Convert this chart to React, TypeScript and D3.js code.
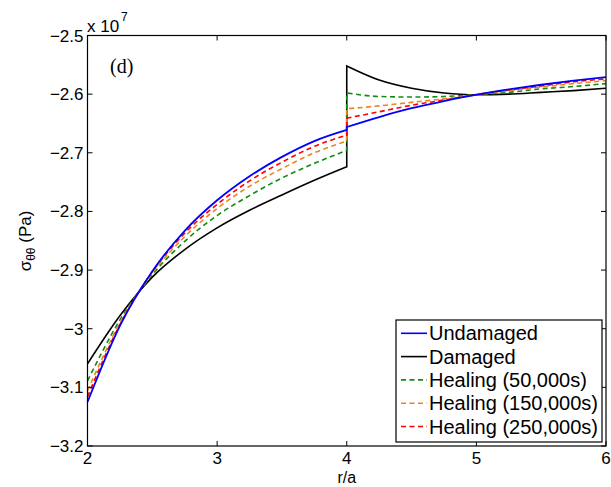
import React from "react";
import * as d3 from "d3";

const rLeft = [2, 2.25, 2.5, 2.75, 3, 3.25, 3.5, 3.75, 4];
const rRight = [4, 4.25, 4.5, 4.75, 5, 5.25, 5.5, 5.75, 6];

// values in units of 1e7 Pa
const undamagedLeft = [-3.125, -2.995, -2.902, -2.833, -2.781, -2.74, -2.707, -2.68, -2.661];
const undamagedRight = [-2.656, -2.639, -2.624, -2.612, -2.601, -2.592, -2.584, -2.577, -2.571];
const damagedLeft = [-3.06, -2.978, -2.912, -2.865, -2.828, -2.798, -2.772, -2.747, -2.724];
const damagedRight = [-2.552, -2.576, -2.59, -2.598, -2.601, -2.6, -2.597, -2.594, -2.59];
const heal50Left = [-3.089, -2.985, -2.908, -2.851, -2.807, -2.773, -2.743, -2.718, -2.696];
const heal50Right = [-2.598, -2.604, -2.605, -2.604, -2.601, -2.597, -2.591, -2.587, -2.582];
const heal150Left = [-3.106, -2.99, -2.905, -2.843, -2.795, -2.757, -2.727, -2.7, -2.68];
const heal150Right = [-2.625, -2.62, -2.614, -2.608, -2.601, -2.594, -2.588, -2.582, -2.577];
const heal250Left = [-3.116, -2.993, -2.903, -2.837, -2.788, -2.748, -2.716, -2.689, -2.67];
const heal250Right = [-2.641, -2.63, -2.619, -2.61, -2.601, -2.593, -2.586, -2.579, -2.574];

const seriesNames = ["Undamaged", "Damaged", "Healing (50,000s)", "Healing (150,000s)", "Healing (250,000s)"];
const seriesColors = ["#0000ff", "#000000", "#138a13", "#e8871e", "#ff0000"];
const seriesDashed = [false, false, true, true, true];
const seriesLeft = [undamagedLeft, damagedLeft, heal50Left, heal150Left, heal250Left];
const seriesRight = [undamagedRight, damagedRight, heal50Right, heal150Right, heal250Right];

const xTicks = [2, 3, 4, 5, 6];
const yTicks = [-3.2, -3.1, -3.0, -2.9, -2.8, -2.7, -2.6, -2.5];
const yTickLabels = ["\u22123.2", "\u22123.1", "\u22123", "\u22122.9", "\u22122.8", "\u22122.7", "\u22122.6", "\u22122.5"];

const W = 611, H = 487;
const L = 87.5, R = 606, T = 35.5, B = 446;

export default function App() {
  const x = d3.scaleLinear().domain([2, 6]).range([L, R]);
  const y = d3.scaleLinear().domain([-3.2, -2.5]).range([B, T]);
  const line = d3.line<[number, number]>().x(d => x(d[0])).y(d => y(d[1])).curve(d3.curveMonotoneX);
  const drawOrder = [1, 2, 3, 4, 0];
  const font = "'Liberation Sans', Arial, Helvetica, sans-serif";
  const tick = 5;
  return (
    <svg width={W} height={H} style={{ position: "absolute", left: 0, top: 0 }} fontFamily={font}>
      <rect x={0} y={0} width={W} height={H} fill="#fff" />
      {drawOrder.map(i => {
        const lp = line(rLeft.map((r, k) => [r, seriesLeft[i][k]] as [number, number])) || "";
        const rp = (line(rRight.map((r, k) => [r, seriesRight[i][k]] as [number, number])) || "").replace(/^M/, "L");
        return (
          <path key={i} d={lp + rp} fill="none" stroke={seriesColors[i]}
            strokeWidth={i === 0 ? 1.8 : 1.6} strokeDasharray={seriesDashed[i] ? "5,3.5" : undefined} />
        );
      })}
      <rect x={L} y={T} width={R - L} height={B - T} fill="none" stroke="#000" strokeWidth={1.2} />
      {xTicks.map(t => (
        <g key={"x" + t}>
          <line x1={x(t)} x2={x(t)} y1={B} y2={B - tick} stroke="#000" />
          <line x1={x(t)} x2={x(t)} y1={T} y2={T + tick} stroke="#000" />
          <text x={x(t)} y={464} textAnchor="middle" fontSize={17}>{t}</text>
        </g>
      ))}
      {yTicks.map((t, k) => (
        <g key={"y" + k}>
          <line x1={L} x2={L + tick} y1={y(t)} y2={y(t)} stroke="#000" />
          <line x1={R} x2={R - tick} y1={y(t)} y2={y(t)} stroke="#000" />
          <text x={83.5} y={y(t) + 6} textAnchor="end" fontSize={17}>{yTickLabels[k]}</text>
        </g>
      ))}
      <text x={87} y={32} fontSize={17}>x 10</text>
      <text x={121} y={21} fontSize={12}>7</text>
      <text x={110} y={73} fontSize={20} fontFamily="'Liberation Serif', 'Times New Roman', serif">(d)</text>
      <text x={x(4)} y={483} textAnchor="middle" fontSize={16}>r/a</text>
      <text transform="translate(31,241) rotate(-90)" textAnchor="middle" fontSize={17}>
        <tspan>σ</tspan>
        <tspan fontSize={12} dy={4}>θθ</tspan>
        <tspan dy={-4}> (Pa)</tspan>
      </text>
      <rect x={396} y={320} width={206} height={122} fill="#fff" stroke="#000" strokeWidth={1.2} />
      {seriesNames.map((n, i) => {
        const yy = 333.3 + i * 23.3;
        return (
          <g key={n}>
            <line x1={401} x2={427} y1={yy} y2={yy} stroke={seriesColors[i]} strokeWidth={1.6}
              strokeDasharray={seriesDashed[i] ? "5,3.5" : undefined} />
            <text x={429} y={yy + 7} fontSize={20}>{n}</text>
          </g>
        );
      })}
    </svg>
  );
}
